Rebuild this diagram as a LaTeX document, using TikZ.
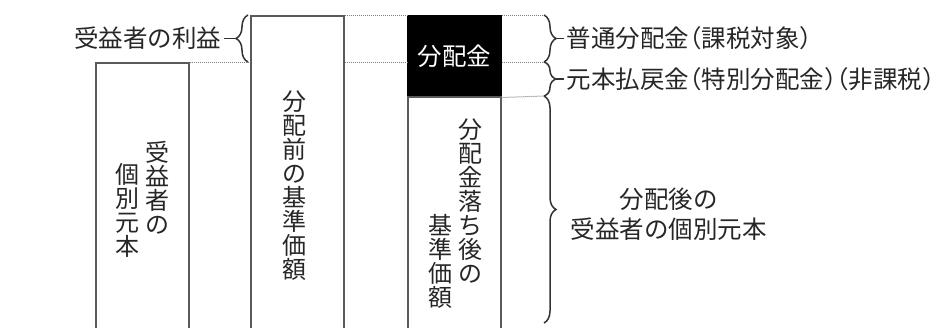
\documentclass[tikz,border=0pt]{standalone}
\usepackage{fontspec}
\setmainfont[RawFeature=+halt]{Noto Sans CJK JP}
\usetikzlibrary{positioning,calc,decorations.pathreplacing}

\begin{document}
\begin{tikzpicture}[x=1pt,y=-1pt,line width=1.5pt,
    box/.style={draw=black!65,rectangle,minimum width=93pt,anchor=north west,inner sep=0pt},
    guide/.style={densely dotted,black!50,line width=1pt},
    kakko/.style={draw=black!80,line width=1.5pt,decorate,decoration={brace,amplitude=12pt}},
    tate/.style={font=\fontsize{24}{24}\selectfont,align=center,anchor=north,inner sep=0pt,text=black!85},
    yoko/.style={font=\fontsize{24.5}{30}\selectfont,inner sep=2pt,text=black!85}]
  \useasboundingbox (0,0) rectangle (945,327);
  \clip (0,0) rectangle (945,327);

  % boxes
  \node(kobetsu) [box,minimum height=300pt] at (95,62) {};
  \node(kijun) [box,minimum height=340pt] at (250,15) {};
  \node(bunpai) [box,minimum height=81pt,fill=black,draw=black] at (407,15) {};
  \node(ochigo) [box,minimum height=260pt] at (407,96) {};
  \node(bunpaikin) [yoko,text=white] at (bunpai.center) {分配金};

  % vertical texts
  \node(kobetsu1) [tate] at (157,140) {受\\益\\者\\の};
  \node(kobetsu2) [tate] at (127,163) {個\\別\\元\\本};
  \node(kijun1) [tate] at (294,90) {分\\配\\前\\の\\基\\準\\価\\額};
  \node(ochigo1) [tate] at (470,118) {分\\配\\金\\落\\ち\\後\\の};
  \node(ochigo2) [tate] at (440,214) {基\\準\\価\\額};

  \coordinate (l0) at (248,15);
  \coordinate (l1) at (248,62);
  \coordinate (r0) at (544,15);
  \coordinate (r1) at (544,62);
  \coordinate (r2) at (544,96);
  \coordinate (r3) at (544,323);

  % dotted guides
  \draw[guide] (kijun.north east) -- (bunpai.north west) (bunpai.north east) -- (r0);
  \draw[guide] (kobetsu.north east) -- (l1) (kijun.east |- r1) -- (bunpai.west |- r1) (bunpai.east |- r1) -- (r1);
  \draw[guide] (bunpai.south east) -- (r2);

  % braces
  \draw[kakko] (l1) -- (l0);
  \draw[kakko] (r0) -- (r1);
  \draw[kakko] (r1) -- (r2);
  \draw[kakko] (r2) -- (r3);
  \coordinate (tl) at ($(l0)!.5!(l1)+(-12,0)$);
  \coordinate (t1) at ($(r0)!.5!(r1)+(12,0)$);
  \coordinate (t2) at ($(r1)!.5!(r2)+(12,0)$);
  \coordinate (t3) at ($(r2)!.5!(r3)+(12,0)$);

  \node(rieki) [yoko,left=12pt of tl] {受益者の利益} edge [draw=black!80] (tl);
  \node(futsuu) [yoko,right=8pt of t1] {普通分配金（課税対象）} edge [draw=black!80] (t1);
  \node(modoshi) [yoko,right=8pt of t2] {元本払戻金（特別分配金）（非課税）} edge [draw=black!80] (t2);
  \node(gokobetsu) [yoko,align=center,right=12pt of t3,yshift=-5pt] {分配後の\\受益者の個別元本};
\end{tikzpicture}
\end{document}
